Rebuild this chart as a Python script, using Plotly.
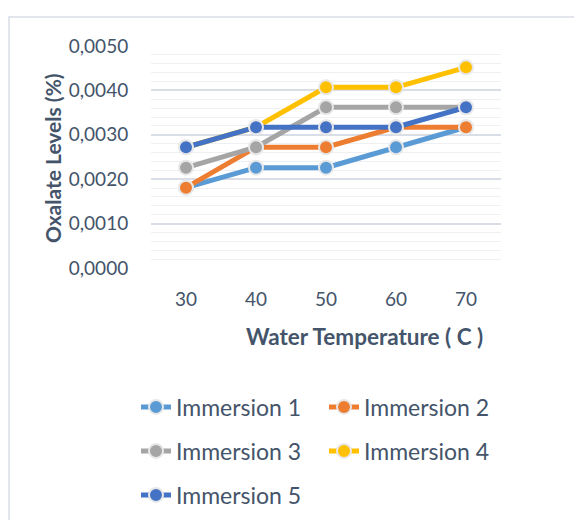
import plotly.graph_objects as go

temps = ["30", "40", "50", "60", "70"]
imm1 = [0.00181, 0.00226, 0.00226, 0.00272, 0.00317]
imm2 = [0.00181, 0.00272, 0.00272, 0.00317, 0.00317]
imm3 = [0.00226, 0.00272, 0.00362, 0.00362, 0.00362]
imm4 = [0.00272, 0.00317, 0.00407, 0.00407, 0.00452]
imm5 = [0.00272, 0.00317, 0.00317, 0.00317, 0.00362]
names = ["Immersion 1", "Immersion 2", "Immersion 3", "Immersion 4", "Immersion 5"]
colors = ["#5B9BD5", "#ED7D31", "#A5A5A5", "#FFC000", "#4472C4"]
legend_ids = ["legend", "legend", "legend2", "legend2", "legend3"]
series = [imm1, imm2, imm3, imm4, imm5]
x_title = "Water Temperature ( C )"
y_title = "Oxalate Levels (%)"

OFF = 8  # page body margin
W, H = 582 - OFF, 520 - OFF
L, T = 151 - OFF, 46 - OFF
PW, PH = 350, 222
R, B = W - L - PW, H - T - PH

def px_x(x):
    return (x - OFF - L) / PW

def px_y(y):
    return (T + PH - (y - OFF)) / PH

TXT = "#44546A"
FONT = "Lato"

fig = go.Figure()
for vals, nm, col, lg in zip(series, names, colors, legend_ids):
    fig.add_trace(go.Scatter(
        x=temps, y=vals, name=nm, mode="lines+markers", legend=lg,
        line=dict(color=col, width=5),
        marker=dict(size=14, color=col, line=dict(color="#E8E8E8", width=2)),
    ))

leg_common = dict(orientation="h", font=dict(family=FONT, size=23, color=TXT),
                  bgcolor="rgba(0,0,0,0)", entrywidth=143, entrywidthmode="pixels",
                  xanchor="left", yanchor="middle", tracegroupgap=0)

fig.update_layout(
    width=W, height=H,
    margin=dict(l=L, r=R, t=T, b=B, autoexpand=False),
    paper_bgcolor="white", plot_bgcolor="white",
    separators=",.",
    font=dict(family=FONT, color=TXT),
    legend=dict(x=px_x(136), y=px_y(407), **leg_common),
    legend2=dict(x=px_x(136), y=px_y(451), **leg_common),
    legend3=dict(x=px_x(136), y=px_y(495), **leg_common),
    xaxis=dict(
        type="category", range=[-0.5, 4.5],
        showgrid=False, zeroline=False, showline=False,
        ticks="outside", ticklen=14, tickcolor="rgba(0,0,0,0)",
        tickfont=dict(family=FONT, size=19, color=TXT),
    ),
    yaxis=dict(
        range=[0, 0.005], dtick=0.001, tickformat=".4f",
        showgrid=True, gridcolor="#D9DEE6", gridwidth=1.5,
        zeroline=False, showline=False,
        minor=dict(dtick=0.0002, showgrid=True, gridcolor="#EEF0F3", gridwidth=1),
        ticks="outside", ticklen=18, tickcolor="rgba(0,0,0,0)",
        tickfont=dict(family=FONT, size=19, color=TXT),
    ),
    annotations=[
        dict(text="<b>" + x_title + "</b>", xref="paper", yref="paper",
             x=px_x(364), y=px_y(336), xanchor="center", yanchor="middle",
             showarrow=False, font=dict(family=FONT, size=22.5, color=TXT)),
        dict(text="<b>" + y_title + "</b>", xref="paper", yref="paper",
             x=px_x(52), y=px_y(158), xanchor="center", yanchor="middle",
             textangle=-90, showarrow=False,
             font=dict(family=FONT, size=21, color=TXT)),
    ],
    shapes=[dict(type="rect", xref="paper", yref="paper",
                 x0=px_x(9), x1=px_x(700), y0=px_y(700), y1=px_y(17),
                 line=dict(color="#D9DEE6", width=1.5), fillcolor="rgba(0,0,0,0)",
                 layer="below")],
)

fig.write_html("out.html")
